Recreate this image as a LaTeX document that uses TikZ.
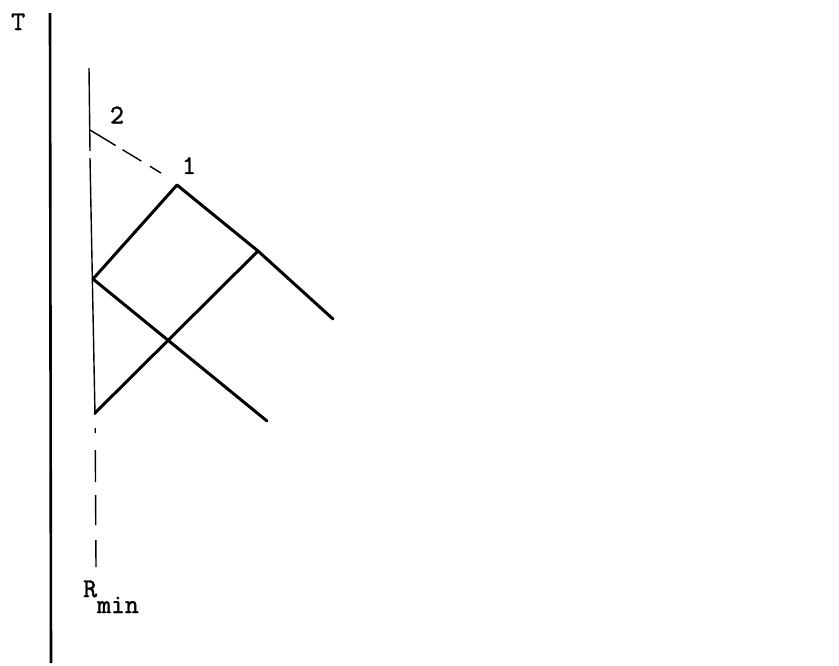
\documentclass[tikz,border=0pt]{standalone}
\usepackage{fontspec}
\newfontfamily\twfont{Latin Modern Mono}[FakeBold=1.6]
\begin{document}
\begin{tikzpicture}[x=1pt,y=-1pt,
  thickline/.style={line width=3pt,line cap=round,line join=round},
  axisline/.style={line width=2.6pt},
  thinline/.style={line width=1.4pt},
  lbl/.style={font=\twfont\bfseries\fontsize{27}{27}\selectfont,inner sep=0pt}]
\useasboundingbox (0,0) rectangle (839,665);
% coordinates
\coordinate (axtop) at (50,13);
\coordinate (axbot) at (51,663);
\coordinate (rtop) at (89,68);
\coordinate (rgap1) at (90,151);
\coordinate (rgap2) at (90,158);
\coordinate (rkink) at (95,415);
\coordinate (rdash) at (95.2,428);
\coordinate (rbot) at (96,567);
\coordinate (p2) at (90,130);
\coordinate (d1) at (161,173);
\coordinate (apex) at (177,185);
\coordinate (lk) at (93,279);
\coordinate (rk) at (258,251);
\coordinate (re) at (333,319);
\coordinate (lo) at (95,413);
\coordinate (le) at (267,421);
% axis
\draw[axisline] (axtop) -- (axbot);
% R_min line
\draw[thinline] (rtop) -- (rgap1);
\draw[thinline] (rgap2) -- (rkink);
\draw[thinline,dash pattern=on 5pt off 17pt on 32pt off 13pt on 30pt off 15pt on 27pt off 50pt] (rdash) -- (rbot);
% dashed line 2 -> 1
\draw[thinline,dash pattern=on 30pt off 8pt on 22pt off 10pt] (p2) -- (d1);
% thick lines
\draw[thickline] (lk) -- (apex) -- (rk) -- (re);
\draw[thickline] (lk) -- (le);
\draw[thickline] (lo) -- (rk);
% labels
\node[lbl,anchor=base west] (T) at (11,30) {T};
\node[lbl] (two) at (117,115) {2};
\node[lbl] (one) at (189,165.5) {1};
\node[lbl,anchor=base west] (rmin) at (83,597) {R\raisebox{-16pt}{min}};
\end{tikzpicture}
\end{document}
